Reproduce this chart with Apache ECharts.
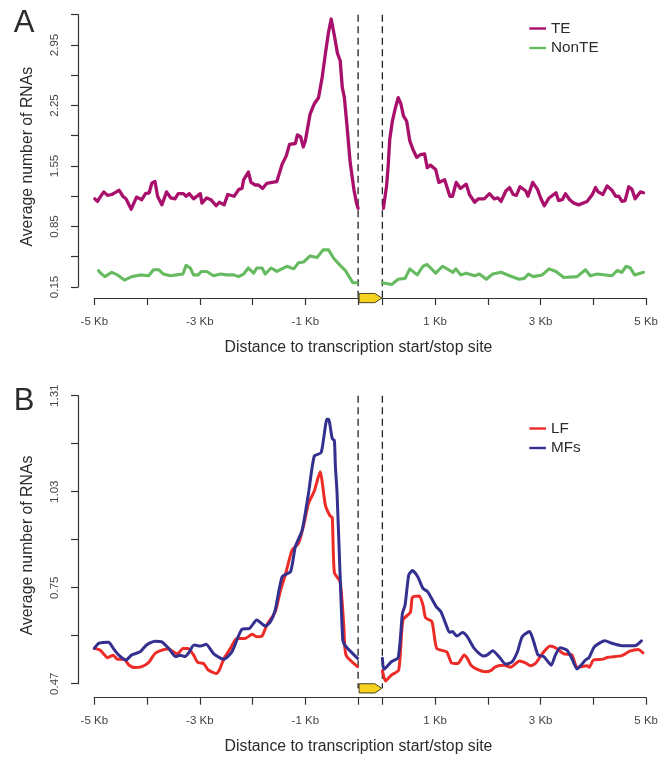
<!DOCTYPE html>
<html><head><meta charset="utf-8">
<style>html,body{margin:0;padding:0;background:#fff}#c{width:661px;height:757px}</style>
<script src="https://cdn.jsdelivr.net/npm/echarts@6/dist/echarts.min.js"></script></head>
<body><div id="c"></div>
<script>
// values as [kb from site, average number of RNAs]
const teUp=[[-4.99,1.17],[-4.94,1.14],[-4.89,1.19],[-4.82,1.25],[-4.75,1.21],[-4.67,1.22],[-4.58,1.25],[-4.53,1.27],[-4.46,1.20],[-4.40,1.17],[-4.30,1.05],[-4.20,1.19],[-4.10,1.16],[-4.03,1.23],[-3.96,1.24],[-3.91,1.35],[-3.85,1.37],[-3.80,1.20],[-3.72,1.10],[-3.63,1.25],[-3.55,1.18],[-3.47,1.17],[-3.41,1.23],[-3.31,1.23],[-3.26,1.20],[-3.20,1.23],[-3.12,1.17],[-2.99,1.23],[-2.96,1.12],[-2.87,1.18],[-2.79,1.16],[-2.69,1.09],[-2.63,1.13],[-2.54,1.10],[-2.47,1.22],[-2.35,1.20],[-2.26,1.28],[-2.20,1.29],[-2.17,1.39],[-2.08,1.48],[-2.03,1.36],[-1.95,1.33],[-1.89,1.33],[-1.81,1.29],[-1.73,1.35],[-1.63,1.36],[-1.54,1.37],[-1.44,1.57],[-1.36,1.67],[-1.30,1.80],[-1.19,1.81],[-1.15,1.91],[-1.09,1.89],[-1.04,1.77],[-1.00,1.84],[-0.91,2.15],[-0.83,2.27],[-0.75,2.34],[-0.68,2.58],[-0.62,2.85],[-0.56,3.10],[-0.51,3.25],[-0.45,3.06],[-0.39,2.85],[-0.34,2.77],[-0.30,2.46],[-0.26,2.34],[-0.21,2.01],[-0.15,1.59],[-0.08,1.28],[-0.03,1.12],[0,1.06]];
const teDown=[[0.02,1.06],[0.08,1.32],[0.11,1.55],[0.14,1.86],[0.19,2.07],[0.25,2.23],[0.30,2.34],[0.35,2.27],[0.40,2.13],[0.46,2.07],[0.52,1.84],[0.58,1.74],[0.65,1.65],[0.72,1.68],[0.80,1.69],[0.85,1.53],[0.91,1.56],[1.01,1.51],[1.07,1.36],[1.18,1.39],[1.28,1.20],[1.33,1.20],[1.40,1.36],[1.48,1.29],[1.59,1.34],[1.65,1.22],[1.75,1.13],[1.82,1.17],[1.93,1.17],[2.03,1.23],[2.12,1.17],[2.19,1.18],[2.25,1.14],[2.34,1.26],[2.41,1.30],[2.48,1.22],[2.54,1.21],[2.61,1.31],[2.72,1.26],[2.76,1.20],[2.85,1.36],[2.94,1.28],[3.00,1.18],[3.07,1.09],[3.16,1.18],[3.29,1.24],[3.34,1.15],[3.41,1.16],[3.47,1.23],[3.55,1.16],[3.63,1.12],[3.72,1.10],[3.88,1.14],[3.98,1.22],[4.04,1.30],[4.09,1.25],[4.18,1.22],[4.26,1.32],[4.35,1.27],[4.42,1.20],[4.48,1.20],[4.54,1.14],[4.60,1.15],[4.67,1.31],[4.73,1.28],[4.79,1.17],[4.89,1.25],[4.95,1.24]];
const nonUp=[[-4.92,0.34],[-4.88,0.31],[-4.80,0.27],[-4.67,0.32],[-4.56,0.29],[-4.43,0.23],[-4.29,0.27],[-4.13,0.29],[-3.97,0.28],[-3.88,0.35],[-3.78,0.35],[-3.69,0.30],[-3.56,0.28],[-3.44,0.29],[-3.32,0.30],[-3.26,0.40],[-3.18,0.37],[-3.12,0.29],[-3.03,0.29],[-2.97,0.33],[-2.87,0.33],[-2.74,0.28],[-2.61,0.30],[-2.49,0.29],[-2.36,0.29],[-2.27,0.27],[-2.17,0.30],[-2.08,0.37],[-1.98,0.31],[-1.92,0.37],[-1.82,0.37],[-1.76,0.30],[-1.65,0.37],[-1.54,0.33],[-1.35,0.39],[-1.22,0.36],[-1.13,0.43],[-1.03,0.44],[-0.91,0.51],[-0.78,0.49],[-0.66,0.58],[-0.56,0.58],[-0.46,0.48],[-0.34,0.40],[-0.24,0.34],[-0.15,0.25],[-0.10,0.20],[-0.02,0.20]];
const nonDown=[[0,0.20],[0.18,0.18],[0.30,0.24],[0.43,0.25],[0.52,0.36],[0.66,0.29],[0.77,0.39],[0.85,0.41],[1.01,0.31],[1.14,0.39],[1.34,0.32],[1.39,0.36],[1.49,0.29],[1.59,0.31],[1.75,0.28],[1.84,0.30],[1.97,0.24],[2.09,0.30],[2.25,0.32],[2.41,0.28],[2.59,0.24],[2.69,0.25],[2.77,0.30],[2.86,0.27],[3.03,0.29],[3.16,0.36],[3.29,0.33],[3.44,0.26],[3.69,0.27],[3.85,0.35],[3.94,0.28],[4.07,0.30],[4.35,0.28],[4.45,0.34],[4.54,0.32],[4.62,0.39],[4.70,0.37],[4.78,0.29],[4.95,0.32]];
const lfUp=[[-5,0.573],[-4.89,0.568],[-4.83,0.558],[-4.75,0.546],[-4.64,0.553],[-4.56,0.541],[-4.44,0.541],[-4.34,0.524],[-4.23,0.517],[-4.10,0.520],[-3.97,0.532],[-3.85,0.558],[-3.72,0.568],[-3.59,0.571],[-3.50,0.563],[-3.42,0.557],[-3.32,0.573],[-3.22,0.573],[-3.12,0.554],[-3.04,0.532],[-2.93,0.529],[-2.84,0.510],[-2.69,0.500],[-2.63,0.510],[-2.54,0.544],[-2.42,0.573],[-2.30,0.602],[-2.14,0.602],[-2.01,0.614],[-1.92,0.607],[-1.82,0.609],[-1.73,0.641],[-1.57,0.680],[-1.47,0.743],[-1.38,0.787],[-1.25,0.860],[-1.13,0.879],[-1.03,0.933],[-0.94,0.996],[-0.83,1.032],[-0.72,1.088],[-0.62,0.991],[-0.53,0.959],[-0.49,0.955],[-0.45,0.794],[-0.34,0.767],[-0.27,0.636],[-0.23,0.554],[-0.01,0.520]];
const lfDown=[[0,0.508],[0.06,0.478],[0.17,0.495],[0.31,0.510],[0.39,0.656],[0.53,0.678],[0.57,0.722],[0.70,0.726],[0.77,0.699],[0.82,0.662],[0.94,0.651],[1.03,0.573],[1.22,0.563],[1.31,0.531],[1.43,0.529],[1.55,0.554],[1.61,0.544],[1.68,0.524],[1.80,0.512],[1.96,0.505],[2.05,0.508],[2.15,0.520],[2.31,0.524],[2.43,0.518],[2.60,0.536],[2.71,0.531],[2.81,0.522],[2.90,0.529],[3.06,0.563],[3.18,0.580],[3.28,0.575],[3.44,0.557],[3.59,0.554],[3.69,0.518],[3.88,0.522],[3.92,0.518],[4.00,0.539],[4.16,0.541],[4.28,0.547],[4.54,0.552],[4.69,0.565],[4.85,0.570],[4.94,0.560]];
const mfUp=[[-5,0.573],[-4.91,0.588],[-4.73,0.591],[-4.64,0.573],[-4.54,0.554],[-4.40,0.539],[-4.29,0.554],[-4.13,0.563],[-4.01,0.583],[-3.85,0.594],[-3.72,0.592],[-3.59,0.573],[-3.46,0.549],[-3.37,0.553],[-3.29,0.549],[-3.22,0.558],[-3.11,0.583],[-2.99,0.580],[-2.88,0.585],[-2.74,0.558],[-2.55,0.541],[-2.39,0.563],[-2.20,0.629],[-2.06,0.631],[-1.92,0.656],[-1.76,0.638],[-1.66,0.651],[-1.57,0.685],[-1.44,0.782],[-1.28,0.797],[-1.19,0.869],[-1.06,0.918],[-0.94,1.025],[-0.83,1.134],[-0.70,1.144],[-0.59,1.241],[-0.56,1.241],[-0.49,1.185],[-0.45,1.179],[-0.43,1.103],[-0.40,1.030],[-0.34,0.782],[-0.29,0.597],[-0.24,0.580],[-0.01,0.544]];
const mfDown=[[0,0.544],[0.03,0.512],[0.17,0.534],[0.30,0.546],[0.38,0.675],[0.43,0.699],[0.50,0.787],[0.57,0.800],[0.67,0.782],[0.77,0.748],[0.86,0.738],[1.02,0.695],[1.11,0.680],[1.21,0.641],[1.27,0.620],[1.33,0.622],[1.41,0.609],[1.52,0.619],[1.61,0.607],[1.74,0.573],[1.91,0.551],[1.99,0.554],[2.09,0.566],[2.21,0.549],[2.34,0.527],[2.46,0.534],[2.56,0.563],[2.65,0.607],[2.79,0.622],[2.87,0.592],[2.95,0.554],[3.06,0.549],[3.20,0.524],[3.28,0.554],[3.37,0.575],[3.50,0.568],[3.59,0.544],[3.69,0.513],[3.85,0.539],[3.92,0.547],[4.02,0.578],[4.22,0.595],[4.35,0.588],[4.54,0.581],[4.79,0.581],[4.91,0.595]];
const kbTicks=[-5,-4,-3,-2,-1,0,1,2,3,4,5];
const kbLabels=['-5 Kb','-3 Kb','-1 Kb','1 Kb','3 Kb','5 Kb'];
const yTicksA=[0.15,0.50,0.85,1.20,1.55,1.90,2.25,2.60,2.95,3.30];
const yLabelsA=['0.15','0.85','1.55','2.25','2.95'];
const yTicksB=[0.47,0.61,0.75,0.89,1.03,1.17,1.31];
const yLabelsB=['0.47','0.75','1.03','1.31'];

const GAP=0.46; // body of the gene, drawn as a gap on the axis
const tickPos=k=>k>0?k+GAP:k;
const ink='#333';
const labelFont={fontFamily:'"Liberation Sans",Arial,sans-serif'};
const seg=(up,down)=>[...up.map(d=>[Math.min(d[0],0),d[1]]),[GAP/2,'-'],...down.map(d=>[d[0]+GAP,d[1]])];

function panel(i,g){
  const fmt=v=>{const k=v>GAP?+(v-GAP).toFixed(2):+(+v).toFixed(2);return k<0?'-'+(-k)+' Kb':k+' Kb';};
  const x={type:'value',gridIndex:i,min:-5,max:5+GAP,position:'bottom',offset:g.off,scale:true,splitLine:{show:false},
    axisLine:{onZero:false,lineStyle:{color:ink,width:1.2}},
    axisTick:{length:7,lineStyle:{color:ink,width:1.2},customValues:[...kbTicks.map(tickPos),GAP]},
    axisLabel:{color:'#444',fontSize:11.5,margin:17.5,...labelFont,formatter:fmt,customValues:kbLabels.map(s=>tickPos(parseFloat(s))),hideOverlap:false,showMinLabel:true,showMaxLabel:true}};
  const y={type:'value',gridIndex:i,min:g.ticks[0],max:g.ticks[g.ticks.length-1],position:'left',offset:16.3,splitLine:{show:false},
    axisLine:{onZero:false,lineStyle:{color:ink,width:1.2}},
    axisTick:{length:7,lineStyle:{color:ink,width:1.2},customValues:g.ticks},
    axisLabel:{color:'#444',fontSize:11.5,rotate:90,margin:17,...labelFont,formatter:v=>(+v).toFixed(2),customValues:g.labels.map(Number),showMinLabel:true,showMaxLabel:true}};
  const line=(name,up,down,color,w)=>({type:'line',name,xAxisIndex:i,yAxisIndex:i,data:seg(up,down),showSymbol:false,symbol:'none',smooth:g.smooth,connectNulls:false,clip:false,
    lineStyle:{color,width:w,join:'round',cap:'round'},itemStyle:{color},z:3,animation:false});
  const guide=k=>({type:'line',xAxisIndex:i,yAxisIndex:i,data:[[k,g.ticks[g.ticks.length-1]],[k,g.axisVal]],showSymbol:false,symbol:'none',clip:false,animation:false,
    lineStyle:{color:'#222',width:1.3,type:[7,4.5]},z:2,silent:true,name:'guide'+i});
  const gene={type:'custom',xAxisIndex:i,yAxisIndex:i,data:[[0,GAP]],encode:{x:[0,1]},z:6,animation:false,silent:true,clip:false,name:'gene'+i,
    renderItem:(p,api)=>{
      const a=api.coord([api.value(0),g.axisVal]),b=api.coord([api.value(1),g.axisVal]);
      const x0=a[0]+1,x1=b[0]-0.5,yc=a[1],h=4.6;
      return {type:'polygon',shape:{points:[[x0,yc-h],[x1-7,yc-h],[x1,yc],[x1-7,yc+h],[x0,yc+h]]},style:{fill:'#f6d21f',stroke:'#4a4420',lineWidth:1}};
    }};
  return {x,y,series:[guide(0),guide(GAP),gene,...g.lines.map(l=>line(...l))]};
}
const pA=panel(0,{off:11,smooth:false,ticks:yTicksA,labels:yLabelsA,axisVal:0.022,lines:[['TE',teUp,teDown,'#a8106c',3.3],['NonTE',nonUp,nonDown,'#66bb60',3.1]]});
const pB=panel(1,{off:14,smooth:0.2,ticks:yTicksB,labels:yLabelsB,axisVal:0.4564,lines:[['LF',lfUp,lfDown,'#ee2c27',3],['MFs',mfUp,mfDown,'#33308f',3]]});

const txt=(text,x,y,size,rot)=>({type:'text',x,y,rotation:rot||0,silent:true,z:10,
  style:{text,fontSize:size,fill:'#2b2b2b',align:'center',verticalAlign:'middle',...labelFont}});
const leg=(names,top)=>({orient:'vertical',left:524.3,top,data:names,icon:'rect',itemWidth:16.7,itemHeight:2.4,itemGap:4.5,
  textStyle:{fontSize:15.3,color:'#2b2b2b',...labelFont},selectedMode:false});

const chart=echarts.init(document.getElementById('c'),null,{renderer:'canvas'});
chart.setOption({
  animation:false,backgroundColor:'#fff',
  grid:[{left:94.3,right:13.3,top:14.7,height:272.3},{left:94.3,right:13.3,top:395.7,height:288}],
  xAxis:[pA.x,pB.x],yAxis:[pA.y,pB.y],
  legend:[leg(['TE','NonTE'],16),leg(['LF','MFs'],416)],
  series:[...pA.series,...pB.series],
  graphic:[
    txt('A',24,23.5,31),txt('B',24,401.5,31),
    txt('Average number of RNAs',27.5,156.7,15.8,Math.PI/2),
    txt('Average number of RNAs',27.5,545.5,15.8,Math.PI/2),
    txt('Distance to transcription start/stop site',358.5,348,15.8),
    txt('Distance to transcription start/stop site',358.5,747,15.8)
  ]
});
</script></body></html>
